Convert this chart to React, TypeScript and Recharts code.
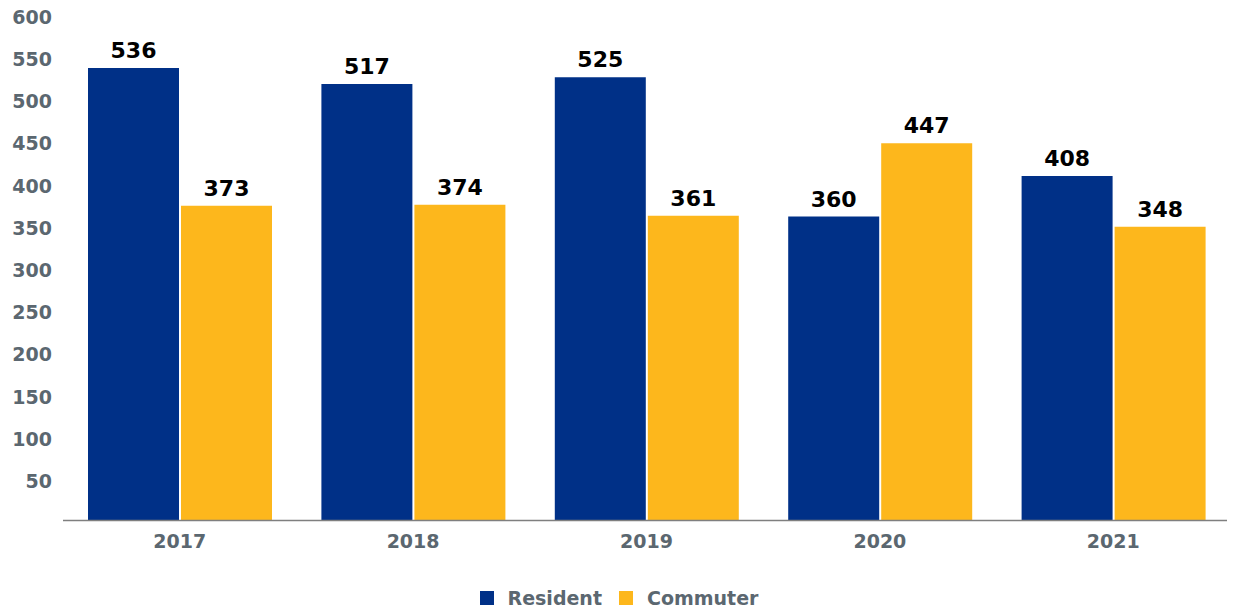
import React from "react";
import { BarChart, Bar, XAxis, YAxis, Legend, LabelList } from "recharts";

const years = ["2017", "2018", "2019", "2020", "2021"];
const resident = [536, 517, 525, 360, 408];
const commuter = [373, 374, 361, 447, 348];
const yTicks = [50, 100, 150, 200, 250, 300, 350, 400, 450, 500, 550, 600];
const seriesNames = ["Resident", "Commuter"];
const seriesColors = ["#003087", "#FDB71C"];

const data = years.map((y, i) => ({ year: y, Resident: resident[i], Commuter: commuter[i] }));

const FONT = "'DejaVu Sans', sans-serif";
const GRAY = "#5B6770";

const renderLegend = () => (
  <div style={{ display: "flex", justifyContent: "center", alignItems: "center", fontFamily: FONT, paddingTop: 3 }}>
    {seriesNames.map((n, i) => (
      <div key={n} style={{ display: "flex", alignItems: "center", marginRight: i === 0 ? 17 : 0 }}>
        <span style={{ display: "inline-block", width: 14, height: 14, background: seriesColors[i], marginRight: 14 }} />
        <span style={{ color: GRAY, fontSize: 19, fontWeight: 700 }}>{n}</span>
      </div>
    ))}
  </div>
);

export default function App() {
  return (
    <div style={{ fontFamily: FONT, marginTop: -8 }}>
      <BarChart
        width={1227}
        height={614}
        data={data}
        margin={{ top: 14, right: 5, bottom: 0, left: 0 }}
        barCategoryGap={25}
        barGap={2}
      >
        <XAxis
          dataKey="year"
          height={63.5}
          tickLine={false}
          axisLine={{ stroke: "#7F7F7F", strokeWidth: 1.5 }}
          tick={{ fill: GRAY, fontSize: 19, fontWeight: 700, fontFamily: FONT }}
          tickMargin={8}
        />
        <YAxis
          width={55}
          domain={[0, 600]}
          ticks={yTicks}
          interval={0}
          axisLine={false}
          tickLine={false}
          tickSize={0}
          tickMargin={11}
          tick={{ fill: GRAY, fontSize: 19, fontWeight: 700, fontFamily: FONT, dy: 3 }}
        />
        <Legend verticalAlign="bottom" height={30} content={renderLegend} />
        <Bar dataKey="Resident" fill={seriesColors[0]} isAnimationActive={false}>
          <LabelList dataKey="Resident" position="top" offset={10} style={{ fill: "#000", fontSize: 22, fontWeight: 700, fontFamily: FONT }} />
        </Bar>
        <Bar dataKey="Commuter" fill={seriesColors[1]} isAnimationActive={false}>
          <LabelList dataKey="Commuter" position="top" offset={10} style={{ fill: "#000", fontSize: 22, fontWeight: 700, fontFamily: FONT }} />
        </Bar>
      </BarChart>
    </div>
  );
}
